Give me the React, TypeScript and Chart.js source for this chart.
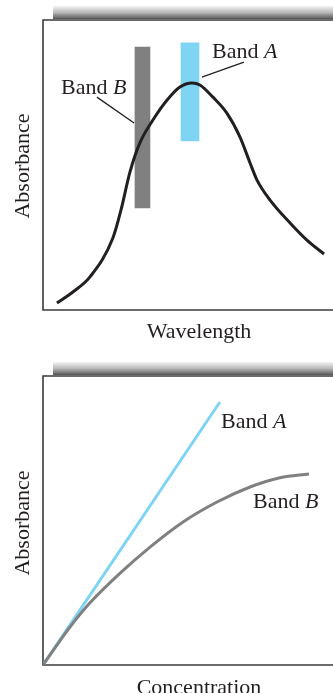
import React, { useEffect, useRef } from "react";
import { Chart, registerables } from "chart.js";

Chart.register(...registerables);

// ---------- Top panel: absorption spectrum ----------
const wavelength = [4.8, 10.3, 16.2, 24.1, 26.9, 30.0, 33.4, 37.9, 42.8, 47.2, 51.4, 54.1, 58.6, 63.4, 67.9, 71.4, 73.8, 78.3, 85.2, 91.0, 96.9];
const spectrumAbsorbance = [2.4, 6.2, 11.4, 24.8, 34.5, 47.6, 57.6, 65.5, 72.4, 76.9, 78.3, 77.6, 73.4, 67.9, 59.7, 50.7, 44.8, 37.9, 30.0, 24.1, 19.3];

const bandWavelengths = [50.7, 34.3]; // Band A, Band B centres
const bandALimits = [58.3, 92.1];
const bandBLimits = [35.2, 90.7];

const leaderAx = [54.8, 69.3];
const leaderAy = [80.3, 85.5];
const leaderBx = [18.6, 31.4];
const leaderBy = [73.4, 64.5];

const topLabelX = [58.3, 6.2];
const topLabelY = [86.9, 74.5];

// ---------- Bottom panel: calibration curves ----------
const concA = [0, 61.0];
const absA = [0, 91.0];
const concB = [0, 9.3, 16.2, 26.6, 36.9, 48.3, 60.0, 71.4, 81.7, 91.7];
const absB = [0, 13.1, 21.5, 31.8, 40.8, 49.5, 56.4, 61.6, 64.8, 66.1];

const bottomLabelX = [61.4, 72.4];
const bottomLabelY = [82.0, 54.3];

const bandNames = ["A", "B"];

const SERIF = "'Liberation Serif', 'Times New Roman', serif";
const BLUE = "#7fd4f4";
const GRAY = "#808080";
const INK = "#231f20";

function drawBandLabel(ctx: CanvasRenderingContext2D, x: number, y: number, letter: string) {
  ctx.save();
  ctx.fillStyle = INK;
  ctx.textAlign = "left";
  ctx.textBaseline = "alphabetic";
  ctx.font = `22px ${SERIF}`;
  const part = "Band ";
  ctx.fillText(part, x, y);
  const w = ctx.measureText(part).width;
  ctx.font = `italic 22px ${SERIF}`;
  ctx.fillText(letter, x + w, y);
  ctx.restore();
}

function framePlugin(xTitle: string, yTitle: string, xTitleY: number, yTitleCenter: number, labelsX: number[], labelsY: number[]) {
  return {
    id: "frameDecor",
    beforeDatasetsDraw(chart: any) {
      const { ctx, chartArea } = chart;
      const { left, top, right, bottom } = chartArea;
      ctx.save();
      const g = ctx.createLinearGradient(0, top - 14, 0, top - 1);
      g.addColorStop(0, "#f4f4f4");
      g.addColorStop(0.5, "#b8b8b8");
      g.addColorStop(1, "#555555");
      ctx.fillStyle = g;
      ctx.fillRect(left + 10, top - 14, right - left - 10, 13);
      ctx.strokeStyle = "#3a3a3a";
      ctx.lineWidth = 1.6;
      ctx.beginPath();
      ctx.moveTo(right, top);
      ctx.lineTo(left, top);
      ctx.lineTo(left, bottom);
      ctx.lineTo(right, bottom);
      ctx.stroke();
      ctx.restore();
    },
    afterDatasetsDraw(chart: any) {
      const { ctx, chartArea, scales } = chart;
      const { left, top, bottom } = chartArea;
      ctx.save();
      ctx.fillStyle = INK;
      ctx.font = `22px ${SERIF}`;
      ctx.textAlign = "center";
      ctx.textBaseline = "alphabetic";
      ctx.fillText(xTitle, left + 156, bottom + xTitleY);
      ctx.translate(left - 14, top + yTitleCenter);
      ctx.rotate(-Math.PI / 2);
      ctx.fillText(yTitle, 0, 0);
      ctx.restore();
      for (let i = 0; i < bandNames.length; i++) {
        drawBandLabel(ctx, scales.x.getPixelForValue(labelsX[i]), scales.y.getPixelForValue(labelsY[i]), bandNames[i]);
      }
    },
  };
}

function pts(xs: number[], ys: number[]) {
  return xs.map((x, i) => ({ x, y: ys[i] }));
}

const scalesCfg = {
  x: { type: "linear", min: 0, max: 100, display: false, offset: false },
  y: { type: "linear", min: 0, max: 100, display: false },
};

export default function App() {
  const topRef = useRef<HTMLCanvasElement>(null);
  const botRef = useRef<HTMLCanvasElement>(null);

  useEffect(() => {
    const top = new Chart(topRef.current as HTMLCanvasElement, {
      type: "bar",
      data: {
        datasets: [
          {
            type: "line",
            data: pts(wavelength, spectrumAbsorbance),
            borderColor: INK,
            borderWidth: 3,
            pointRadius: 0,
            cubicInterpolationMode: "monotone",
            fill: false,
            order: 0,
          },
          {
            type: "bar",
            data: [{ x: bandWavelengths[0], y: bandALimits }],
            backgroundColor: BLUE,
            barThickness: 18,
            grouped: false,
            borderWidth: 0,
            order: 2,
          },
          {
            type: "bar",
            data: [{ x: bandWavelengths[1], y: bandBLimits }],
            backgroundColor: GRAY,
            barThickness: 15,
            grouped: false,
            borderWidth: 0,
            order: 2,
          },
          {
            type: "line",
            data: pts(leaderAx, leaderAy),
            borderColor: INK,
            borderWidth: 1.3,
            pointRadius: 0,
            order: 1,
          },
          {
            type: "line",
            data: pts(leaderBx, leaderBy),
            borderColor: INK,
            borderWidth: 1.3,
            pointRadius: 0,
            order: 1,
          },
        ],
      } as any,
      options: {
        responsive: false,
        animation: false,
        layout: { padding: { left: 43, top: 20, right: 0, bottom: 35 } },
        plugins: { legend: { display: false }, tooltip: { enabled: false } },
        scales: scalesCfg as any,
      },
      plugins: [framePlugin("Wavelength", "Absorbance", 28, 146, topLabelX, topLabelY)],
    });

    const bot = new Chart(botRef.current as HTMLCanvasElement, {
      type: "line",
      data: {
        datasets: [
          {
            data: pts(concB, absB),
            borderColor: GRAY,
            borderWidth: 3,
            pointRadius: 0,
            cubicInterpolationMode: "monotone",
            order: 0,
          },
          {
            data: pts(concA, absA),
            borderColor: BLUE,
            borderWidth: 3,
            pointRadius: 0,
            order: 1,
          },
        ],
      } as any,
      options: {
        responsive: false,
        animation: false,
        layout: { padding: { left: 43, top: 31, right: 0, bottom: 28 } },
        plugins: { legend: { display: false }, tooltip: { enabled: false } },
        scales: scalesCfg as any,
      },
      plugins: [framePlugin("Concentration", "Absorbance", 29, 147, bottomLabelX, bottomLabelY)],
    });

    return () => {
      top.destroy();
      bot.destroy();
    };
  }, []);

  return (
    <div style={{ position: "fixed", left: 0, top: 0, width: 333, height: 693, background: "#fff" }}>
      <canvas ref={topRef} width={333} height={345} style={{ display: "block", width: 333, height: 345 }} />
      <canvas ref={botRef} width={333} height={348} style={{ display: "block", width: 333, height: 348 }} />
    </div>
  );
}
